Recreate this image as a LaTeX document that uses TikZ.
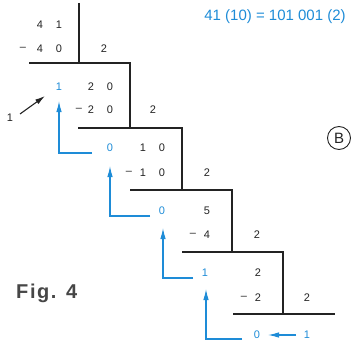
\documentclass[tikz,border=0pt]{standalone}
\usepackage{fontspec}
\setmainfont{Liberation Sans}
\newfontfamily\figfont[LetterSpace=8]{Liberation Sans}
\usetikzlibrary{arrows.meta}
\definecolor{bl}{RGB}{30,140,215}
\definecolor{ink}{RGB}{35,35,35}
\definecolor{figgray}{RGB}{70,70,70}
\tikzset{
  dig/.style={font=\fontsize{11}{11}\selectfont, text=ink, inner sep=0pt, anchor=center},
  bdig/.style={dig, text=bl},
  rule/.style={draw=ink, line width=1.2pt},
  barrow/.style={draw=bl, line width=1.1pt, -{Latex[length=11pt,width=5.5pt]}},
  karrow/.style={draw=ink, line width=1.1pt, -{Latex[length=10pt,width=5.5pt]}},
}
\begin{document}
\begin{tikzpicture}[x=1pt,y=-1pt]
\useasboundingbox (0,0) rectangle (351,345);
% staircase rules
\coordinate (v1t) at (79,3);
\coordinate (c1) at (79,63);
\coordinate (h1l) at (29,63);
\coordinate (c2) at (130,63);
\coordinate (c3) at (130,128);
\coordinate (h2l) at (78,128);
\coordinate (c4) at (182,128);
\coordinate (c5) at (182,190);
\coordinate (h3l) at (130,190);
\coordinate (c6) at (232,190);
\coordinate (c7) at (232,252);
\coordinate (h4l) at (182,252);
\coordinate (c8) at (283,252);
\coordinate (c9) at (283,314);
\coordinate (h5l) at (233,314);
\coordinate (h5r) at (335,314);
\draw[rule] (v1t) -- (c1);
\draw[rule] (h1l) -- (c2) -- (c3);
\draw[rule] (h2l) -- (c4) -- (c5);
\draw[rule] (h3l) -- (c6) -- (c7);
\draw[rule] (h4l) -- (c8) -- (c9);
\draw[rule] (h5l) -- (h5r);
% row texts
\node[dig] (r1a) at (40,25) {4};
\node[dig] (r1b) at (59,25) {1};
\node[dig] (r2m) at (23,49) {–};
\node[dig] (r2a) at (40,49) {4};
\node[dig] (r2b) at (59,49) {0};
\node[dig] (d1) at (104,49) {2};
\node[bdig] (q1) at (59,87) {1};
\node[dig] (r3a) at (91,87) {2};
\node[dig] (r3b) at (110,87) {0};
\node[dig] (r4m) at (79,110) {–};
\node[dig] (r4a) at (91,110) {2};
\node[dig] (r4b) at (110,110) {0};
\node[dig] (d2) at (153,110) {2};
\node[bdig] (q2) at (110,148) {0};
\node[dig] (r5a) at (143,148) {1};
\node[dig] (r5b) at (162,148) {0};
\node[dig] (r6m) at (129,173) {–};
\node[dig] (r6a) at (143,173) {1};
\node[dig] (r6b) at (162,173) {0};
\node[dig] (d3) at (207,173) {2};
\node[bdig] (q3) at (162,211) {0};
\node[dig] (r7a) at (207,211) {5};
\node[dig] (r8m) at (193,235) {–};
\node[dig] (r8a) at (207,235) {4};
\node[dig] (d4) at (257,235) {2};
\node[bdig] (q4) at (205,273) {1};
\node[dig] (r9a) at (258,273) {2};
\node[dig] (r10m) at (244,298) {–};
\node[dig] (r10a) at (258,298) {2};
\node[dig] (d5) at (307,298) {2};
\node[bdig] (q5) at (257,335) {0};
\node[bdig] (q6) at (307,335) {1};
% blue L arrows
\coordinate (a1e) at (92,153); \coordinate (a1c) at (59,153); \coordinate (a1t) at (59,101);
\coordinate (a2e) at (150,216); \coordinate (a2c) at (110,216); \coordinate (a2t) at (110,166);
\coordinate (a3e) at (193,278); \coordinate (a3c) at (163,278); \coordinate (a3t) at (163,228);
\coordinate (a4e) at (242,339); \coordinate (a4c) at (206,339); \coordinate (a4t) at (206,289);
\draw[barrow] (a1e) -- (a1c) -- (a1t);
\draw[barrow] (a2e) -- (a2c) -- (a2t);
\draw[barrow] (a3e) -- (a3c) -- (a3t);
\draw[barrow] (a4e) -- (a4c) -- (a4t);
\coordinate (b5s) at (296,335); \coordinate (b5t) at (268,335);
\draw[barrow] (b5s) -- (b5t);
% black arrow with label 1
\node[dig] (one) at (10,118) {1};
\coordinate (ka) at (20,114); \coordinate (kb) at (45,96);
\draw[karrow] (ka) -- (kb);
% title
\node[text=bl, font=\fontsize{15}{15}\selectfont, inner sep=0pt] (title) at (275,17) {41 (10) = 101 001 (2)};
% circled B
\node[draw=ink, circle, line width=0.9pt, minimum size=23pt, inner sep=0pt, font=\fontsize{15}{15}\selectfont, text=ink] (B) at (339,138) {B};
% Fig. 4
\node[text=figgray, font=\fontsize{20}{20}\selectfont\figfont\bfseries, inner sep=0pt, anchor=west] (fig) at (16,293) {Fig. 4};
\end{tikzpicture}
\end{document}
